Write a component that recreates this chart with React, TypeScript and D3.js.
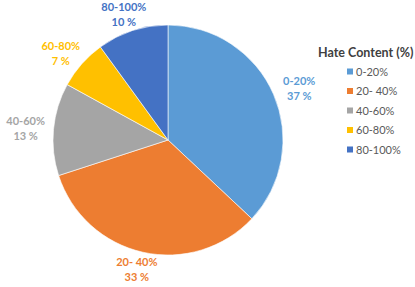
import * as React from "react";
import * as d3 from "d3";

const categories = ["0-20%", "20- 40%", "40-60%", "60-80%", "80-100%"];
const shares = [37, 33, 13, 7, 10];
const colors = ["#5B9BD5", "#ED7D31", "#A5A5A5", "#FFC000", "#4472C4"];
const legendTitle = "Hate Content (%)";

export default function App() {
  const ref = React.useRef<SVGSVGElement>(null);

  React.useEffect(() => {
    const svg = d3.select(ref.current);
    svg.selectAll("*").remove();

    let cx = 168;
    let cy = 140;
    let radius = 115;
    let gap = 5;
    let boxW = 46;
    let boxH = 24;
    let font = "Lato, 'Open Sans', sans-serif";

    const pie = d3
      .pie<number>()
      .sort(null)
      .value((d) => d);
    const arcs = pie(shares);
    const arc = d3.arc<d3.PieArcDatum<number>>().innerRadius(0).outerRadius(radius);

    const g = svg.append("g").attr("transform", "translate(" + cx + "," + cy + ")");

    g.selectAll("path")
      .data(arcs)
      .enter()
      .append("path")
      .attr("d", arc)
      .attr("fill", (d, i) => colors[i])
      .attr("stroke", "#ffffff")
      .attr("stroke-width", 0.6);

    // labels sit just outside the pie, box touching the rim (like Excel "best fit")
    const labelPos = (d: d3.PieArcDatum<number>) => {
      const a = (d.startAngle + d.endAngle) / 2;
      const s = Math.sin(a);
      const c = Math.cos(a);
      return [(radius + gap) * s + (boxW / 2) * s, -(radius + gap) * c - (boxH / 2) * c];
    };

    const labels = g.selectAll(".lbl").data(arcs).enter().append("text");
    labels
      .attr("class", "lbl")
      .attr("transform", (d) => {
        const p = labelPos(d);
        return "translate(" + p[0] + "," + p[1] + ")";
      })
      .attr("text-anchor", "middle")
      .attr("font-family", font)
      .attr("font-size", "11px")
      .attr("font-weight", "bold")
      .attr("fill", (d, i) => colors[i]);
    labels
      .append("tspan")
      .attr("x", 0)
      .attr("y", -3)
      .text((d, i) => categories[i]);
    labels
      .append("tspan")
      .attr("x", 0)
      .attr("y", 12)
      .text((d) => d.data + " %");

    // legend
    const legend = svg.append("g").attr("transform", "translate(347,57)");
    legend
      .append("text")
      .attr("x", -29)
      .attr("y", 0)
      .attr("font-family", font)
      .attr("font-size", "12.5px")
      .attr("font-weight", "bold")
      .attr("fill", "#404040")
      .text(legendTitle);

    const items = legend
      .selectAll(".item")
      .data(categories)
      .enter()
      .append("g")
      .attr("class", "item")
      .attr("transform", (d, i) => "translate(0," + (15 + i * 19.5) + ")");
    items
      .append("rect")
      .attr("x", 0)
      .attr("y", -3.5)
      .attr("width", 6)
      .attr("height", 6)
      .attr("fill", (d, i) => colors[i]);
    items
      .append("text")
      .attr("x", 9)
      .attr("y", 0)
      .attr("dy", "0.35em")
      .attr("font-family", font)
      .attr("font-size", "11px")
      .attr("fill", "#595959")
      .text((d) => d);
  }, []);

  return (
    <svg
      ref={ref}
      width={415}
      height={287}
      style={{ position: "absolute", left: 0, top: 0, background: "#ffffff" }}
    />
  );
}
